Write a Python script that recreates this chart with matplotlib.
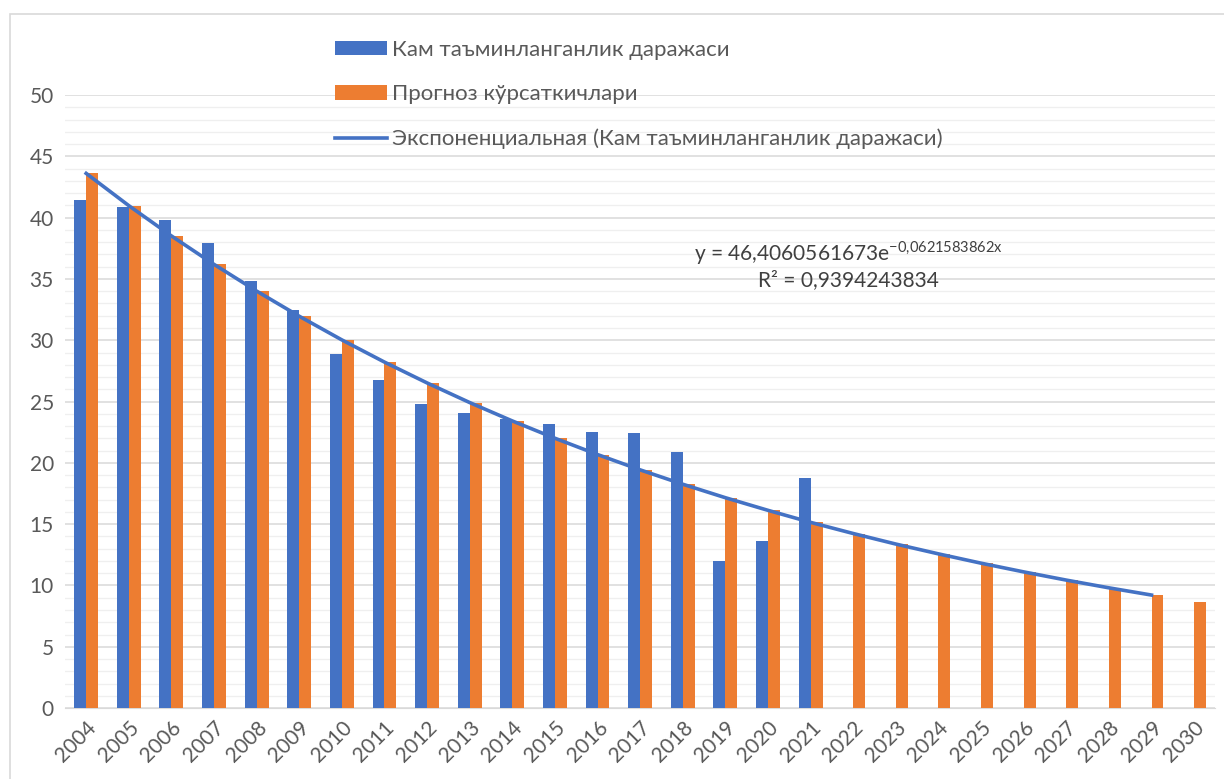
import numpy as np
import matplotlib
matplotlib.use("Agg")
import matplotlib.pyplot as plt
from matplotlib.patches import Rectangle

plt.rcParams['font.family'] = ['Lato', 'DejaVu Sans']
plt.rcParams['mathtext.fontset'] = 'custom'
plt.rcParams['mathtext.rm'] = 'Lato'

years = [str(y) for y in range(2004, 2031)]
# Кам таъминланганлик даражаси (2004-2021)
actual = [41.4, 40.9, 39.8, 37.9, 34.8, 32.5, 28.9, 26.8, 24.8, 24.1,
          23.6, 23.2, 22.5, 22.4, 20.9, 12.0, 13.6, 18.8]
# Прогноз кўрсаткичлари (2004-2030)
forecast = [43.61, 40.98, 38.51, 36.19, 34.01, 31.96, 30.03, 28.22, 26.52,
            24.92, 23.42, 22.01, 20.68, 19.43, 18.26, 17.16, 16.13, 15.15,
            14.24, 13.38, 12.58, 11.82, 11.11, 10.44, 9.81, 9.22, 8.66]
# trend line drawn 2004-2029
trend = forecast[:26]

blue = '#4472C4'
orange = '#ED7D31'
grey = '#595959'

fig = plt.figure(figsize=(12.24, 7.79), dpi=100)
ax = fig.add_axes([0.053, 0.091, 0.940, 0.787])

x = np.arange(len(years))
w = 0.28
b1 = ax.bar(x[:len(actual)] - w / 2, actual, w, color=blue, label='Кам таъминланганлик даражаси', zorder=3)
b2 = ax.bar(x + w / 2, forecast, w, color=orange, label='Прогноз кўрсаткичлари', zorder=3)
l1, = ax.plot(x[:len(trend)], trend, color=blue, lw=2.6, zorder=4,
              label='Экспоненциальная (Кам таъминланганлик даражаси)')

ax.set_xlim(-0.5, len(years) - 0.5)
ax.set_ylim(0, 50)
ax.set_yticks(range(0, 51, 5))
ax.set_yticks(range(0, 51, 1), minor=True)
ax.grid(axis='y', which='major', color='#D9D9D9', lw=1.1, zorder=0)
ax.grid(axis='y', which='minor', color='#EFEFEF', lw=0.9, zorder=0)
ax.set_xticks(x)
ax.set_xticklabels(years, rotation=45, ha='right', rotation_mode='anchor')
ax.tick_params(axis='both', which='both', length=0, labelcolor=grey, labelsize=15)
ax.tick_params(axis='y', pad=8)
ax.tick_params(axis='x', pad=7)
for s in ['top', 'right', 'left']:
    ax.spines[s].set_visible(False)
ax.spines['bottom'].set_color('#D9D9D9')

ax.text(0.681, 0.742, 'y = 46,4060561673e$^{\\mathrm{-0{,}0621583862x}}$',
        transform=ax.transAxes, ha='center', va='center', fontsize=15, color='#404040')
ax.text(0.681, 0.698, 'R² = 0,9394243834', transform=ax.transAxes,
        ha='center', va='center', fontsize=15, color='#404040')

leg = ax.legend(handles=[b1, b2, l1], loc='upper left', bbox_to_anchor=(0.265, 0.963),
                bbox_transform=fig.transFigure, frameon=False, fontsize=16,
                labelspacing=1.1, handlelength=2.3, handleheight=0.6,
                handletextpad=0.25, borderpad=0)
for t in leg.get_texts():
    t.set_color(grey)

fig.patches.append(Rectangle((0.008, -0.02), 1.1, 1.002, transform=fig.transFigure,
                             fill=False, edgecolor='#D9D9D9', lw=1.2))

fig.savefig('out.png', dpi=100)
